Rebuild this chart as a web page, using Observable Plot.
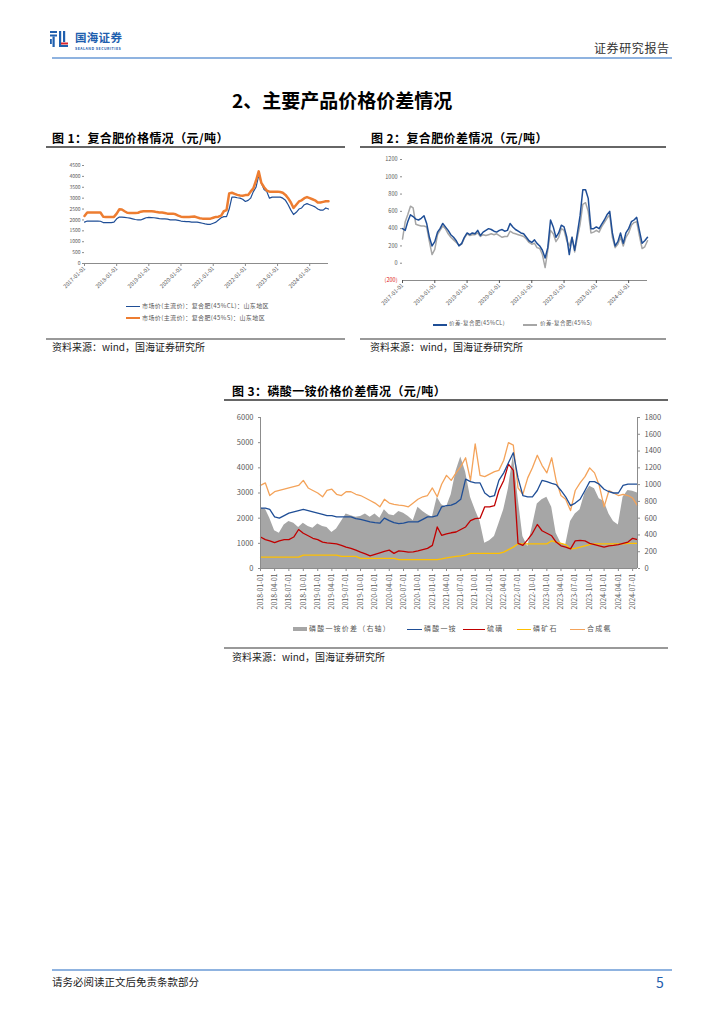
<!DOCTYPE html>
<html lang="zh"><head><meta charset="utf-8">
<script src="https://cdn.jsdelivr.net/npm/d3@7"></script>
<script src="https://cdn.jsdelivr.net/npm/@observablehq/plot@0.6"></script>
<style>
html,body{margin:0;padding:0;background:#fff;}
#page{position:relative;width:724px;height:1024px;overflow:hidden;font-family:"Noto Sans CJK SC","Noto Sans",sans-serif;color:#000;}
.a{position:absolute;white-space:nowrap;line-height:1;}
.figt{font-size:12px;font-weight:bold;letter-spacing:0.4px;}
.src{font-size:10px;color:#222;}
.lg{font-size:6px;color:#555;letter-spacing:0.4px;}
.lg3{font-size:7px;color:#555;letter-spacing:1.2px;}
</style></head>
<body><div id="page">
  <!-- header -->
  <svg class="a" style="left:50px;top:31px" width="18" height="16" viewBox="0 0 18 16">
    <rect x="0" y="0" width="7" height="2" fill="#1f5fae"/>
    <rect x="0" y="3.5" width="7" height="2" fill="#1f5fae"/>
    <rect x="2.5" y="5.5" width="2.2" height="10.5" fill="#1f5fae"/>
    <rect x="0" y="8" width="1.8" height="5" fill="#1f5fae"/>
    <rect x="9" y="0" width="2.2" height="16" fill="#1f5fae"/>
    <rect x="13" y="0" width="2.2" height="11" fill="#1f5fae"/>
    <rect x="11" y="11.5" width="7" height="2" fill="#d7262e"/>
    <rect x="11" y="14" width="7" height="2" fill="#1f5fae"/>
  </svg>
  <div class="a" style="left:75px;top:32px;font-size:11.5px;font-weight:bold;color:#1f5fae;letter-spacing:0.3px;">国海证券</div>
  <div class="a" style="left:75px;top:47px;font-size:3.6px;font-weight:bold;color:#1f5fae;letter-spacing:0.45px;">SEALAND SECURITIES</div>
  <div class="a" style="left:594px;top:42px;font-size:12px;color:#333;letter-spacing:0.6px;">证券研究报告</div>
  <div class="a" style="left:52px;top:57px;width:620px;height:2px;background:#8fb3e0;"></div>

  <div class="a" style="left:232px;top:90px;font-size:19px;font-weight:bold;">2、主要产品价格价差情况</div>

  <!-- figure 1 -->
  <div class="a figt" style="left:52px;top:132px;">图 1：复合肥价格情况（元/吨）</div>
  <div class="a" style="left:46px;top:146px;width:299px;height:1.5px;background:#666;"></div>
  <div id="c1" class="a" style="left:46px;top:155px;"></div>
  <div class="a" style="left:126px;top:306px;width:14px;height:1.2px;background:#1f4e96;"></div>
  <div class="a lg" style="left:142px;top:303px;">市场价(主流价)：复合肥(45%CL)：山东地区</div>
  <div class="a" style="left:126px;top:316.5px;width:14px;height:2.5px;background:#ed7d31;"></div>
  <div class="a lg" style="left:142px;top:314.5px;">市场价(主流价)：复合肥(45%S)：山东地区</div>
  <div class="a" style="left:46px;top:338px;width:299px;height:1.5px;background:#999;"></div>
  <div class="a src" style="left:52px;top:342px;">资料来源：wind，国海证券研究所</div>

  <!-- figure 2 -->
  <div class="a figt" style="left:371px;top:132px;">图 2：复合肥价差情况（元/吨）</div>
  <div class="a" style="left:360px;top:146px;width:306px;height:1.5px;background:#666;"></div>
  <div id="c2" class="a" style="left:360px;top:150px;"></div>
  <div class="a" style="left:433px;top:323.5px;width:14px;height:2px;background:#1f4e96;"></div>
  <div class="a lg" style="left:449px;top:321px;font-size:5.5px;">价差-复合肥(45%CL)</div>
  <div class="a" style="left:523px;top:323.5px;width:14px;height:2px;background:#a6a6a6;"></div>
  <div class="a lg" style="left:540px;top:321px;font-size:5.5px;">价差-复合肥(45%S)</div>
  <div class="a" style="left:360px;top:338px;width:306px;height:1.5px;background:#999;"></div>
  <div class="a src" style="left:370px;top:342px;">资料来源：wind，国海证券研究所</div>

  <!-- figure 3 -->
  <div class="a figt" style="left:232px;top:385px;">图 3：磷酸一铵价格价差情况（元/吨）</div>
  <div class="a" style="left:224px;top:399px;width:444px;height:1.5px;background:#666;"></div>
  <div id="c3" class="a" style="left:224px;top:405px;"></div>
  <div class="a" style="left:293px;top:627px;width:14px;height:4px;background:#a6a6a6;"></div>
  <div class="a lg3" style="left:309px;top:625px;">磷酸一铵价差（右轴）</div>
  <div class="a" style="left:407px;top:628.5px;width:15px;height:1.3px;background:#1f4e96;"></div>
  <div class="a lg3" style="left:424px;top:625px;">磷酸一铵</div>
  <div class="a" style="left:463px;top:628.5px;width:22px;height:1.3px;background:#c00000;"></div>
  <div class="a lg3" style="left:487px;top:625px;">硫磺</div>
  <div class="a" style="left:517px;top:628.5px;width:14px;height:1.3px;background:#ffc000;"></div>
  <div class="a lg3" style="left:533px;top:625px;">磷矿石</div>
  <div class="a" style="left:570px;top:628.5px;width:15px;height:1.3px;background:#f4a35a;"></div>
  <div class="a lg3" style="left:587px;top:625px;">合成氨</div>
  <div class="a" style="left:224px;top:647px;width:444px;height:1.5px;background:#999;"></div>
  <div class="a src" style="left:232px;top:652px;">资料来源：wind，国海证券研究所</div>

  <!-- footer -->
  <div class="a" style="left:52px;top:969px;width:620px;height:2px;background:#8fb3e0;"></div>
  <div class="a" style="left:52px;top:977px;font-size:10.5px;color:#222;">请务必阅读正文后免责条款部分</div>
  <div class="a" style="left:656px;top:975px;font-size:14px;color:#1f5fae;">5</div>
</div>
<script>
// ---------- Figure 1: compound fertilizer prices (monthly, 2017-01 .. 2024-08)
const fig1Start = "2017-01-01", fig1End = "2024-08-01";
const priceCL45 = [
 1900,1950,1950,1950,1950,1950,1940,1880,1880,1880,1880,1900,
 2050,2130,2130,2120,2100,2080,2050,2020,2000,2000,2050,2100,
 2120,2110,2100,2080,2060,2050,2050,2040,2000,2000,2000,1980,
 1950,1930,1920,1920,1900,1900,1900,1880,1850,1820,1800,1800,
 1850,1900,2000,2100,2150,2150,2500,3050,3050,3020,3000,2950,
 2850,2900,3000,3300,3500,4050,3700,3400,3300,3000,3050,3050,
 3050,3050,3000,2900,2700,2450,2250,2350,2500,2550,2700,2750,
 2700,2650,2600,2500,2450,2450,2550,2500];
const priceS45 = [
 2180,2340,2340,2340,2340,2340,2340,2150,2140,2140,2140,2140,
 2290,2490,2480,2400,2330,2320,2320,2320,2330,2380,2400,2400,
 2400,2400,2390,2360,2340,2340,2320,2290,2290,2290,2260,2200,
 2150,2140,2140,2140,2150,2160,2120,2080,2060,2060,2060,2060,
 2100,2140,2150,2200,2400,2450,3220,3250,3200,3150,3120,3110,
 3140,3150,3300,3450,3800,4230,3700,3500,3350,3300,3300,3300,
 3300,3280,3250,3150,3000,2800,2550,2700,2850,2900,3000,3050,
 3000,2950,2900,2800,2800,2830,2860,2860];
const yTicks1 = [0,500,1000,1500,2000,2500,3000,3500,4000,4500];
const xTicks12 = ["2017-01-01","2018-01-01","2019-01-01","2020-01-01","2021-01-01","2022-01-01","2023-01-01","2024-01-01"];

// ---------- Figure 2: compound fertilizer spreads (monthly, 2017-01 .. 2024-08)
const spreadCL45 = [
 400,380,480,560,540,510,500,520,550,460,300,200,
 250,360,400,460,420,380,330,300,260,200,230,300,
 350,330,350,340,380,320,360,380,400,390,370,360,
 380,390,370,380,460,420,390,370,350,340,300,260,
 240,270,230,200,150,60,180,500,420,300,350,440,
 420,300,100,300,150,350,550,850,850,750,400,400,
 420,400,450,500,560,600,350,200,250,350,230,350,
 400,480,500,530,380,230,260,300];
const spreadS45 = [
 280,480,560,660,640,450,440,430,430,420,250,100,
 160,330,380,430,400,340,300,270,240,210,220,290,
 340,320,330,330,350,310,330,320,330,340,330,340,
 320,300,310,310,370,350,340,330,320,310,280,240,
 220,230,180,170,100,-50,150,380,340,250,300,400,
 380,260,200,300,130,300,450,680,700,600,350,360,
 380,360,420,470,520,560,300,180,220,300,200,300,
 350,440,470,480,320,170,190,260];
const yTicks2 = [0,200,400,600,800,1000,1200];
const yNegTick2 = [-200];

// ---------- Figure 3: MAP price & spread (monthly, 2018-01 .. 2024-08)
const fig3Start = "2018-01-01", fig3End = "2024-08-01";
const mapPrice = [
 2400,2400,2350,2050,2000,2100,2200,2250,2300,2350,2300,2250,
 2200,2150,2100,2100,2050,2050,2050,2050,1980,1950,1900,1850,
 1820,1800,2000,1900,1820,1780,1800,1850,1850,1850,1950,2050,
 2050,2100,2450,2500,2520,2600,2750,3550,3450,3400,3400,3000,
 2850,2900,3500,3800,4200,4600,3600,2900,2850,2850,3100,3500,
 3450,3380,3330,3100,2850,2500,2600,2750,3100,3450,3450,3350,
 3150,3050,3000,3000,3300,3350,3350,3350];
const sulfurPrice = [
 1250,1150,1100,1030,1100,1150,1150,1250,1550,1400,1300,1200,
 1150,1050,1020,1000,980,920,850,800,730,650,580,500,
 560,620,680,730,600,700,680,650,660,700,750,800,
 920,1650,1320,1380,1420,1450,1550,1650,1900,1980,2000,2450,
 2450,2500,3100,3500,4150,3900,1000,920,1150,1400,1750,1500,
 1400,1300,1050,900,850,780,1100,1120,1100,1000,950,900,
 850,900,920,950,1000,1050,1200,1150];
const rockPrice = [
 450,450,450,450,450,450,450,450,450,530,530,530,
 530,530,530,530,530,480,480,480,480,400,400,400,
 400,400,400,400,400,350,350,350,350,350,350,350,
 350,350,380,420,450,480,500,530,600,600,600,600,
 600,600,600,650,750,850,980,980,980,980,980,980,
 980,1100,1050,1000,950,780,800,850,900,950,980,980,
 980,980,980,980,980,1000,1000,1000];
const ammoniaPrice = [
 3300,3400,2900,3050,3100,3150,3200,3250,3300,3500,3200,3100,
 3000,2850,3100,3150,2950,2900,3050,3050,2950,2900,2800,2700,
 2600,2450,2750,2600,2550,2520,2500,2450,2600,2750,2850,2900,
 3200,2850,3350,3700,3500,3800,4050,4400,3500,4950,3700,3650,
 3750,3850,3900,4300,5000,4900,3200,2950,3600,4000,4500,4100,
 3800,4400,3500,2900,2750,2300,3100,3400,3650,4000,3800,3300,
 2450,3100,3000,2900,2950,2900,2800,2500];
const mapSpread = [
 720,710,600,450,420,520,560,540,490,540,500,480,
 530,500,490,430,470,560,650,630,610,620,650,610,
 650,600,700,640,630,680,660,620,570,730,680,640,
 610,850,760,730,880,1160,1330,1150,850,700,560,300,
 330,380,530,700,950,1350,850,380,260,500,770,820,
 850,730,420,300,280,560,650,700,900,980,950,830,
 800,650,560,520,850,930,920,900];
const yTicksLeft3 = [0,1000,2000,3000,4000,5000,6000];
const yTicksRight3 = [0,200,400,600,800,1000,1200,1400,1600,1800];
const xTicks3 = ["2018-01-01","2018-04-01","2018-07-01","2018-10-01","2019-01-01","2019-04-01","2019-07-01","2019-10-01",
 "2020-01-01","2020-04-01","2020-07-01","2020-10-01","2021-01-01","2021-04-01","2021-07-01","2021-10-01",
 "2022-01-01","2022-04-01","2022-07-01","2022-10-01","2023-01-01","2023-04-01","2023-07-01","2023-10-01",
 "2024-01-01","2024-04-01","2024-07-01"];

// ---------- build tables
const FONT = '"Noto Sans CJK SC","Noto Sans",sans-serif';
const D = s => new Date(s + "T00:00:00Z");
const fmtDate = d3.utcFormat("%Y-%m-%d");
const plain = d => String(d);
const months1 = d3.utcMonth.range(D(fig1Start), d3.utcMonth.offset(D(fig1End), 1));
const rows1 = months1.map((d, i) => ({date: d, cl: priceCL45[i], s: priceS45[i], scl: spreadCL45[i], ss: spreadS45[i]}));
const months3 = d3.utcMonth.range(D(fig3Start), d3.utcMonth.offset(D(fig3End), 1));
const rows3 = months3.map((d, i) => ({date: d, map: mapPrice[i], sulfur: sulfurPrice[i], rock: rockPrice[i], ammonia: ammoniaPrice[i], spread: mapSpread[i]}));

const axisGray = "#8c8c8c", textGray = "#595959";

// ---------- Chart 1
const c1 = Plot.plot({
  width: 300, height: 145, marginLeft: 38, marginRight: 18, marginTop: 10, marginBottom: 37,
  style: {fontFamily: FONT, fontSize: "5px", color: textGray, background: "transparent", overflow: "visible"},
  x: {type: "utc", domain: [D(fig1Start), D(fig1End)], label: null},
  y: {domain: [0, 4500], label: null},
  marks: [
    Plot.axisY({ticks: yTicks1, tickFormat: plain, tickSize: 2, tickPadding: 2, stroke: axisGray, fill: textGray, fontSize: 5, label: null}),
    Plot.ruleY([0], {stroke: axisGray, strokeWidth: 1}),
    Plot.axisX({ticks: xTicks12.map(D), tickSize: 3, tickRotate: -45, tickPadding: 1, tickFormat: fmtDate, stroke: axisGray, fill: textGray, fontSize: 5.5, label: null}),
    Plot.lineY(rows1, {x: "date", y: "cl", stroke: "#1f4e96", strokeWidth: 1.2}),
    Plot.lineY(rows1, {x: "date", y: "s", stroke: "#ed7d31", strokeWidth: 2.5})
  ]
});
document.getElementById("c1").append(c1);

// ---------- Chart 2
const c2 = Plot.plot({
  width: 306, height: 170, marginLeft: 42, marginRight: 19, marginTop: 9, marginBottom: 40,
  style: {fontFamily: FONT, fontSize: "5.5px", color: textGray, background: "transparent", overflow: "visible"},
  x: {type: "utc", domain: [D(fig1Start), D(fig1End)], label: null},
  y: {domain: [-200, 1200], label: null},
  marks: [
    Plot.axisY({ticks: yTicks2, tickFormat: plain, tickSize: 2, tickPadding: 3, stroke: axisGray, fill: textGray, fontSize: 5.5, label: null}),
    Plot.axisY({ticks: yNegTick2, tickSize: 0, tickPadding: 5, tickFormat: d => "(" + Math.abs(d) + ")", fill: "#e02020", fontSize: 5.5, label: null}),
    Plot.ruleY([-200], {stroke: axisGray, strokeWidth: 1.2}),
    Plot.axisX({ticks: xTicks12.map(D), tickSize: 3, tickRotate: -45, tickPadding: 1, tickFormat: fmtDate, stroke: "#555", fill: textGray, fontSize: 5.5, label: null}),
    Plot.lineY(rows1, {x: "date", y: "ss", stroke: "#a6a6a6", strokeWidth: 1.5}),
    Plot.lineY(rows1, {x: "date", y: "scl", stroke: "#1f4e96", strokeWidth: 1.5})
  ]
});
document.getElementById("c2").append(c2);

// ---------- Chart 3 (dual axis: right axis values scaled onto the left domain)
const k3 = 6000 / 1800;
const c3 = Plot.plot({
  width: 444, height: 215, marginLeft: 36, marginRight: 31, marginTop: 12, marginBottom: 52,
  style: {fontFamily: FONT, fontSize: "7px", color: textGray, background: "transparent", overflow: "visible"},
  x: {type: "utc", domain: [D(fig3Start), D(fig3End)], label: null},
  y: {domain: [0, 6000], label: null},
  marks: [
    Plot.areaY(rows3, {x: "date", y: d => d.spread * k3, fill: "#a6a6a6"}),
    Plot.lineY(rows3, {x: "date", y: "rock", stroke: "#ffc000", strokeWidth: 1.3}),
    Plot.lineY(rows3, {x: "date", y: "sulfur", stroke: "#c00000", strokeWidth: 1.3}),
    Plot.lineY(rows3, {x: "date", y: "ammonia", stroke: "#f4a35a", strokeWidth: 1.3}),
    Plot.lineY(rows3, {x: "date", y: "map", stroke: "#1f4e96", strokeWidth: 1.3}),
    Plot.ruleX([D(fig3Start)], {stroke: axisGray}),
    Plot.ruleX([D(fig3End)], {stroke: axisGray}),
    Plot.ruleY([0], {stroke: axisGray}),
    Plot.axisY({ticks: yTicksLeft3, tickFormat: plain, tickSize: 2, tickPadding: 5, stroke: axisGray, fill: textGray, fontSize: 7.5, label: null}),
    Plot.axisY({anchor: "right", ticks: yTicksRight3.map(v => v * k3), tickFormat: d => String(Math.round(d / k3)), tickSize: 2, tickPadding: 5, stroke: axisGray, fill: textGray, fontSize: 7.5, label: null}),
    Plot.axisX({ticks: xTicks3.map(D), tickSize: 3, tickRotate: -90, tickPadding: 2, tickFormat: fmtDate, stroke: axisGray, fill: textGray, fontSize: 7, label: null})
  ]
});
document.getElementById("c3").append(c3);
</script></body></html>
